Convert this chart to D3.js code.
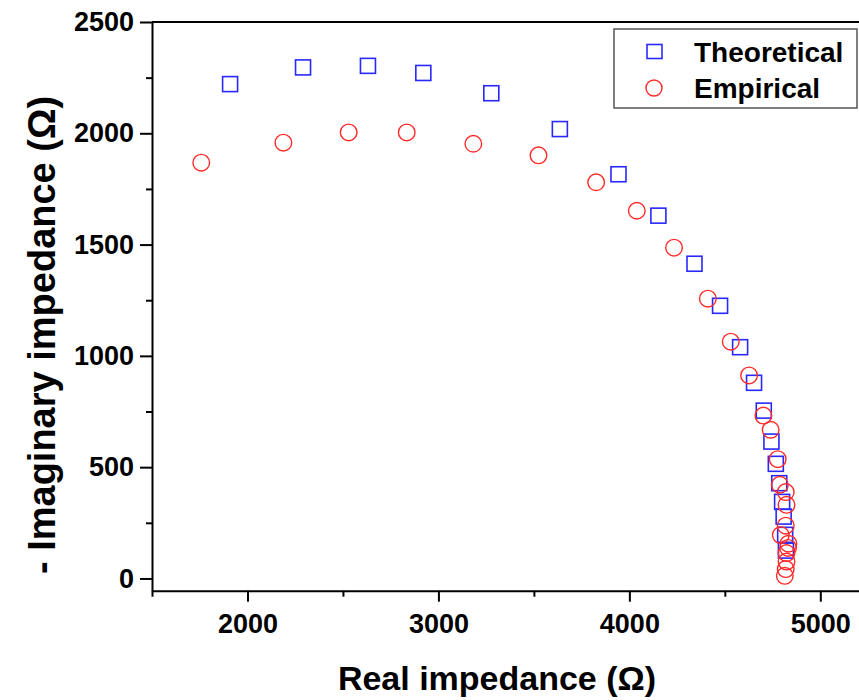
<!DOCTYPE html>
<meta charset="utf-8">
<style>
body { margin: 0; background: #fff; }
text { font-family: "Liberation Sans", Arial, sans-serif; font-weight: bold; }
.axis path, .axis line { stroke: #000; stroke-width: 2px; }
.axis text { font-size: 27px; fill: #000; }
.theo { fill: none; stroke: #2828ff; stroke-width: 1.6px; }
.emp { fill: none; stroke: #ff2a2a; stroke-width: 1.4px; }
</style>
<body>
<svg width="859" height="700"></svg>
<script src="https://cdnjs.cloudflare.com/ajax/libs/d3/7.8.5/d3.min.js"></script>
<script>

// values (ohms)
var theoRe = [1909, 2291, 2631, 2921, 3277, 3636, 3943, 4152, 4341, 4475, 4580, 4653, 4704, 4744, 4767, 4785, 4800, 4808, 4816, 4820];
var theoIm = [2221, 2296, 2303, 2271, 2180, 2019, 1816, 1630, 1414, 1225, 1039, 879, 754, 615, 515, 428, 344, 278, 196, 125];

var empRe = [1758, 2188, 2530, 2834, 3183, 3524, 3826, 4039, 4234, 4411, 4531, 4627, 4702, 4740, 4777, 4788, 4819, 4823, 4819, 4793, 4833, 4831, 4823, 4823, 4819, 4814];
var empIm = [1868, 1958, 2004, 2004, 1953, 1901, 1780, 1652, 1486, 1257, 1064, 912, 732, 668, 536, 421, 388, 331, 237, 195, 156, 137, 114, 76, 42, 12];

var xMajor = [2000, 3000, 4000, 5000];
var xMinor = [1500, 2500, 3500, 4500];
var yMajor = [0, 500, 1000, 1500, 2000, 2500];
var yMinor = [250, 750, 1250, 1750, 2250];

var seriesNames = ["Theoretical", "Empirical"];

var svg = d3.select("svg");

var x = d3.scaleLinear().domain([1500, 5200]).range([152, 858.5]);
var y = d3.scaleLinear().domain([-55, 2500]).range([590.7, 22]);

// minor ticks first
svg.append("g").attr("class", "axis")
  .attr("transform", "translate(0,590.7)")
  .call(d3.axisBottom(x).tickValues(xMinor).tickSize(6).tickFormat(""))
  .select(".domain").remove();
svg.append("g").attr("class", "axis")
  .attr("transform", "translate(152,0)")
  .call(d3.axisLeft(y).tickValues(yMinor).tickSize(6).tickFormat(""))
  .select(".domain").remove();

var xAxis = svg.append("g").attr("class", "axis")
  .attr("transform", "translate(0,590.7)")
  .call(d3.axisBottom(x).tickValues(xMajor).tickSize(11).tickSizeOuter(0).tickFormat(d3.format("d")));
xAxis.selectAll("text").attr("dy", "0").attr("y", 42);

var yAxis = svg.append("g").attr("class", "axis")
  .attr("transform", "translate(152,0)")
  .call(d3.axisLeft(y).tickValues(yMajor).tickSize(12).tickSizeOuter(0).tickFormat(d3.format("d")));
yAxis.selectAll("text").attr("x", -18);

// top frame line
svg.append("line")
  .attr("x1", 152).attr("x2", 859)
  .attr("y1", y(2500)).attr("y2", y(2500))
  .attr("stroke", "#000").attr("stroke-width", 2);

var theo = theoRe.map(function(d, i) { return [d, theoIm[i]]; });
var emp = empRe.map(function(d, i) { return [d, empIm[i]]; });

svg.selectAll("rect.theo").data(theo)
  .enter().append("rect")
  .attr("class", "theo")
  .attr("x", function(d) { return x(d[0]) - 7.5; })
  .attr("y", function(d) { return y(d[1]) - 7.5; })
  .attr("width", 15).attr("height", 15);

svg.selectAll("circle.emp").data(emp)
  .enter().append("circle")
  .attr("class", "emp")
  .attr("cx", function(d) { return x(d[0]); })
  .attr("cy", function(d) { return y(d[1]); })
  .attr("r", 8.3);

// legend
var lg = svg.append("g");
lg.append("rect")
  .attr("x", 614).attr("y", 29).attr("width", 243).attr("height", 79)
  .attr("fill", "#fff").attr("stroke", "#555").attr("stroke-width", 1.5);
lg.append("rect").attr("class", "theo")
  .attr("x", 647).attr("y", 44.5).attr("width", 15).attr("height", 14);
lg.append("circle").attr("class", "emp")
  .attr("cx", 654).attr("cy", 88).attr("r", 8);
lg.selectAll("text.lab").data(seriesNames)
  .enter().append("text")
  .attr("x", 694).attr("y", function(d, i) { return 62 + i * 36; })
  .style("font-size", "28px")
  .text(function(d) { return d; });

// axis titles
svg.append("text")
  .attr("x", 497).attr("y", 690)
  .attr("text-anchor", "middle")
  .style("font-size", "34px")
  .text("Real impedance (Ω)");

svg.append("text")
  .attr("transform", "translate(55,335) rotate(-90)")
  .attr("text-anchor", "middle")
  .style("font-size", "38px")
  .text("- Imaginary impedance (Ω)");

</script>
</body>
